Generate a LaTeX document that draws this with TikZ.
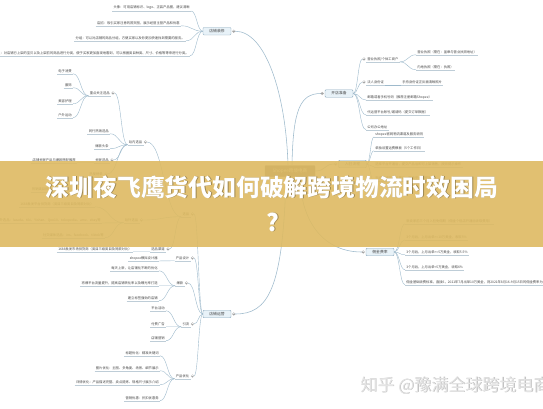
\documentclass[tikz,border=0pt]{standalone}
\usepackage{fontspec}
\setmainfont{Noto Sans CJK SC}
\usetikzlibrary{calc}
\definecolor{lnc}{RGB}{158,186,204}
\definecolor{ulc}{RGB}{190,205,215}
\definecolor{txc}{RGB}{70,70,70}
\definecolor{mfill}{RGB}{232,242,248}
\definecolor{mdraw}{RGB}{140,170,190}
\definecolor{band}{RGB}{222,186,98}
\definecolor{wm}{RGB}{228,228,228}
\definecolor{cfill}{RGB}{120,120,120}
\tikzset{
 lf/.style={font=\fontsize{3.3}{4}\selectfont, text=txc, inner xsep=1.2pt, inner ysep=1pt},
 ul/.style={draw=ulc, line width=0.35pt},
 cn/.style={draw=lnc, line width=0.4pt},
 mcn/.style={draw=lnc, line width=0.55pt},
 mn/.style={draw=mdraw, fill=mfill, line width=0.4pt, rounded corners=1pt, font=\fontsize{3.8}{4.5}\selectfont, text=txc, minimum width=28pt, minimum height=7.5pt, inner sep=0.5pt},
 cnode/.style={draw=gray, fill=cfill, rounded corners=1pt, font=\fontsize{4.6}{5.5}\selectfont, text=white, minimum width=50pt, minimum height=11pt, inner sep=0.5pt},
 tg/.style={draw=gray!70, line width=0.3pt, fill=white},
}
\newcommand\mkL[4]{\node[lf,anchor=east] (#1) at (#2,#3) {#4};\draw[ul] (#1.south west)--(#1.south east);}
\newcommand\mkR[4]{\node[lf,anchor=west] (#1) at (#2,#3) {#4};\draw[ul] (#1.south west)--(#1.south east);}
\newcommand\tgL[1]{\coordinate (#1t) at ($(#1.east)+(2.1,0)$);\coordinate (#1c) at ($(#1.east)+(3.5,0)$);}
\newcommand\tgR[1]{\coordinate (#1t) at ($(#1.west)+(-2.1,0)$);\coordinate (#1c) at ($(#1.west)+(-3.5,0)$);}
\newcommand\tgD[1]{\draw[tg] (#1) circle (1.4pt);\draw[draw=gray!70,line width=0.3pt] ($(#1)+(-0.75,0)$)--($(#1)+(0.75,0)$);}
\newcommand\conn[2]{\path ($(#1)!0.5!(#2)$) coordinate (mm);\draw[cn] (#1) .. controls (#1 -| mm) and (#2 -| mm) .. (#2);}
\begin{document}
\begin{tikzpicture}[x=1pt,y=-1pt]
\useasboundingbox[fill=white] (0,0) rectangle (543,408);

% main nodes
\node[cnode] (c) at (290,171) {Shopee跨境电商};
\node[mn] (dz) at (217,31.2) {店铺装修};
\node[mn] (kz) at (339,93.5) {开店准备};
\node[mn] (rz) at (352.5,164) {入驻流程};
\node[mn] (yz) at (380,252) {佣金费率};
\node[mn] (yy) at (217,314) {店铺运营};
\coordinate (dzt) at ($(dz.east)+(2.6,0)$); \coordinate (dzc) at ($(dz.east)+(4,0)$);
\coordinate (kzt) at ($(kz.west)+(-2.6,0)$); \coordinate (kzc) at ($(kz.west)+(-4,0)$);
\coordinate (rzt) at ($(rz.west)+(-2.6,0)$); \coordinate (rzc) at ($(rz.west)+(-4,0)$);
\coordinate (yzt) at ($(yz.west)+(-2.6,0)$); \coordinate (yzc) at ($(yz.west)+(-4,0)$);
\coordinate (yyt) at ($(yy.east)+(2.6,0)$); \coordinate (yyc) at ($(yy.east)+(4,0)$);

% main curves
\draw[mcn] ($(c.north)+(-2,0)$) .. controls (286,95) and (266,31.2) .. (dzc);
\draw[mcn] ($(c.north)+(2,0)$) .. controls (293,110) and (300,93.5) .. (kzc);
\draw[mcn] (c.east) .. controls (326,171) and (324,164) .. (rzc);
\draw[mcn] ($(c.south)+(10,0)$) .. controls (301,225) and (326,252) .. (yzc);
\draw[mcn] ($(c.south)+(-4,0)$) .. controls (283,290) and (268,314) .. (yyc);

% ---- 店铺装修
\mkL{d1}{191}{8}{头像：可用店铺标识、logo、正装产品图，建议清晰}
\mkL{d2}{181}{23}{店招：吸引买家注意的首页图，展示经营主营产品和优惠}
\mkL{d3}{186}{38}{分组：可以对店铺的商品分组，方便买家以及你更加快速找到需要的服务。}
\mkL{d4}{190}{53}{分类：对店铺已上架的宝贝以及上架前的商品进行分类，便于买家更加直观地看到，可以根据类目种类、尺寸、价格等等来进行分类。}
\foreach \n in {d1,d2,d3,d4}{\conn{dz.west}{\n.south east}}

% ---- 开店准备
\mkR{k1}{366}{59}{营业执照/个体工商户}\tgR{k1}
\mkR{k1a}{416}{52}{营业执照（需在：盖章与营业执照地址）}
\mkR{k1b}{416}{67}{内地执照（需在：执照）}
\conn{k1.south east}{k1a.south west}
\conn{k1.south east}{k1b.south west}
\mkR{k2}{366}{82}{法人身份证}\tgR{k2}
\mkR{k2a}{401}{82}{手持身份证正反面清晰照片}
\conn{k2.south east}{k2a.south west}
\mkR{k3}{366}{97}{邮箱或者手机号码（推荐注册邮箱Shopee）}
\mkR{k4}{366}{112}{代运营平台账号/邀请码（提交订单数据）}
\mkR{k5}{366}{127}{公司办公地址}
\conn{kz.east}{k1c}
\conn{kz.east}{k2c}
\foreach \n in {k3,k4,k5}{\conn{kz.east}{\n.south west}}

% ---- 入驻流程
\mkR{r1}{374}{134}{shopee官网物流渠道及服务说明}
\mkR{r2}{374}{148}{单独设置运费模板（5个工作日）}
\mkR{r3}{374}{164}{选择平台开通后，提交产品后即可上架销售，按照提示操作}
\mkR{r4}{374}{178}{完成店铺装修设置后，等待平台审核通过}
\foreach \n in {r1,r2,r3,r4}{\conn{rz.east}{\n.south west}}

% ---- 佣金费率
\mkR{y1}{405}{221}{新卖家前三个月入驻免佣期（佣金个但店开通后收取费用）}
\mkR{y2}{405}{237}{3个月后，上月出单>=10万美金，收取5\%}
\mkR{y3}{405}{252}{3个月后，上月出单>=5万美金，收取5.5\%}
\mkR{y4}{405}{267}{3个月后，上月出单<5万美金，收取6\%}
\mkR{y5}{405}{282}{佣金基础收费标准，直接6，2021年7月出单10万美金，则2021年8月16-9月15日的佣金费率为5\%}
\foreach \n in {y1,y2,y3,y4,y5}{\conn{yz.east}{\n.south west}}

% ---- 店铺运营
\mkL{s1}{190.5}{214}{选品}\tgL{s1}
\mkL{s2}{190.5}{258}{产品设计}\tgL{s2}
\mkL{s3}{184.5}{283}{爆款}\tgL{s3}
\mkL{s4}{190.5}{324}{引流}\tgL{s4}
\mkL{s5}{190.5}{376}{产品优化}\tgL{s5}
\foreach \n in {s1,s2,s3,s4,s5}{\conn{yy.west}{\n c}}

% 选品
\mkL{x1}{143.5}{142}{站内选品}\tgL{x1}
\mkL{x2}{139.5}{220}{站外选品}\tgL{x2}
\mkL{x3}{166}{249}{选品渠道}\tgL{x3}
\foreach \n in {x1,x2,x3}{\conn{s1.south west}{\n c}}

\mkL{z1}{111}{93}{重点关注选品}\tgL{z1}
\mkL{z2}{110}{131}{同行热销选品}
\mkL{z3}{110}{146}{爆款头条}
\mkL{z4}{110}{160}{关联选品}\tgL{z4}
\mkL{z5}{104}{174}{热搜榜单}\tgL{z5}
\conn{x1.south west}{z1c}
\conn{x1.south west}{z2.south east}
\conn{x1.south west}{z3.south east}
\conn{x1.south west}{z4c}
\conn{x1.south west}{z5c}
\mkL{z1a}{73}{71}{电子消费}
\mkL{z1b}{73}{85}{服饰}
\mkL{z1c}{73}{101}{美容护理}
\mkL{z1d}{73}{115}{户外运动}
\foreach \n in {z1a,z1b,z1c,z1d}{\conn{z1.south west}{\n.south east}}
\mkL{z4a}{77}{160}{店铺关联产品与爆款搭配推荐}
\conn{z4.south west}{z4a.south east}
\mkL{z5a}{69}{189}{热销类目排行/分析/数据}
\conn{z5.south west}{z5a.south east}

\mkL{w1}{95}{204}{1688批发平台供货商（类目三级类目及同款对比）}
\mkL{w2}{102}{220}{站外选品：lazada、tiki、Yishan、Qoo10、tokopedia、amz、ebay等}
\mkL{w3}{105}{235}{社交媒体选品：ins、facebook、tiktok等}
\foreach \n in {w1,w2,w3}{\conn{x2.south west}{\n.south east}}
\mkL{v1}{133}{249}{1688批发市场供货商（类目三级类目及同款对比）}
\conn{x3.south west}{v1.south east}

% 产品设计 / 爆款 / 引流 / 产品优化
\mkL{p1}{159}{258}{shopee模拟设计器}
\conn{s2.south west}{p1.south east}
\mkL{b1}{159}{268}{每天上新，让店铺化不断的优化}
\mkL{b2}{159}{283}{将爆平台流量提升，提高店铺转化率以及曝光率打造}
\mkL{b3}{159}{298}{建立标签强劲的店铺}
\foreach \n in {b1,b2,b3}{\conn{s3.south west}{\n.south east}}
\mkL{l1}{166}{308}{平台活动}
\mkL{l2}{166}{324}{付费广告}
\mkL{l3}{166}{338}{店铺营销}
\foreach \n in {l1,l2,l3}{\conn{s4.south west}{\n.south east}}
\mkL{o1}{160}{353}{标题优化：精准关键词}
\mkL{o2}{160}{368}{图片优化：主图、多角度、场景、细节展示}
\mkL{o3}{160}{382}{详情优化：产品描述完整、卖点提炼、规格尺寸展示介绍}
\mkL{o4}{160}{398}{营销优惠：折扣优惠券}
\foreach \n in {o1,o2,o3,o4}{\conn{s5.south west}{\n.south east}}

% toggles
\foreach \n in {dzt,kzt,rzt,yzt,yyt,k1t,k2t,s1t,s2t,s3t,s4t,s5t,x1t,x2t,x3t,z1t,z4t,z5t}{\tgD{\n}}

% banner
\fill[band, opacity=0.9] (0,161) rectangle (543,246.5);
\node[anchor=base, font=\fontsize{23.8}{30}\selectfont\bfseries, text=black, opacity=0.3] at (272.6,196.6) {深圳夜飞鹰货代如何破解跨境物流时效困局};
\node[anchor=base, font=\fontsize{23.8}{30}\selectfont\bfseries, text=white] (t1) at (272,196) {深圳夜飞鹰货代如何破解跨境物流时效困局};
\node[anchor=base, font=\fontsize{23.8}{30}\selectfont\bfseries, text=black, opacity=0.3] at (273.6,231.6) {?};
\node[anchor=base, font=\fontsize{23.8}{30}\selectfont\bfseries, text=white] (t2) at (273,231) {?};

% watermark
\node[anchor=base west, font=\fontsize{17}{17}\selectfont, text=gray!55] at (357.6,391.6) {知乎 @豫满全球跨境电商};
\node[anchor=base west, font=\fontsize{17}{17}\selectfont, text=wm] (wmk) at (357,391) {知乎 @豫满全球跨境电商};
\end{tikzpicture}
\end{document}
